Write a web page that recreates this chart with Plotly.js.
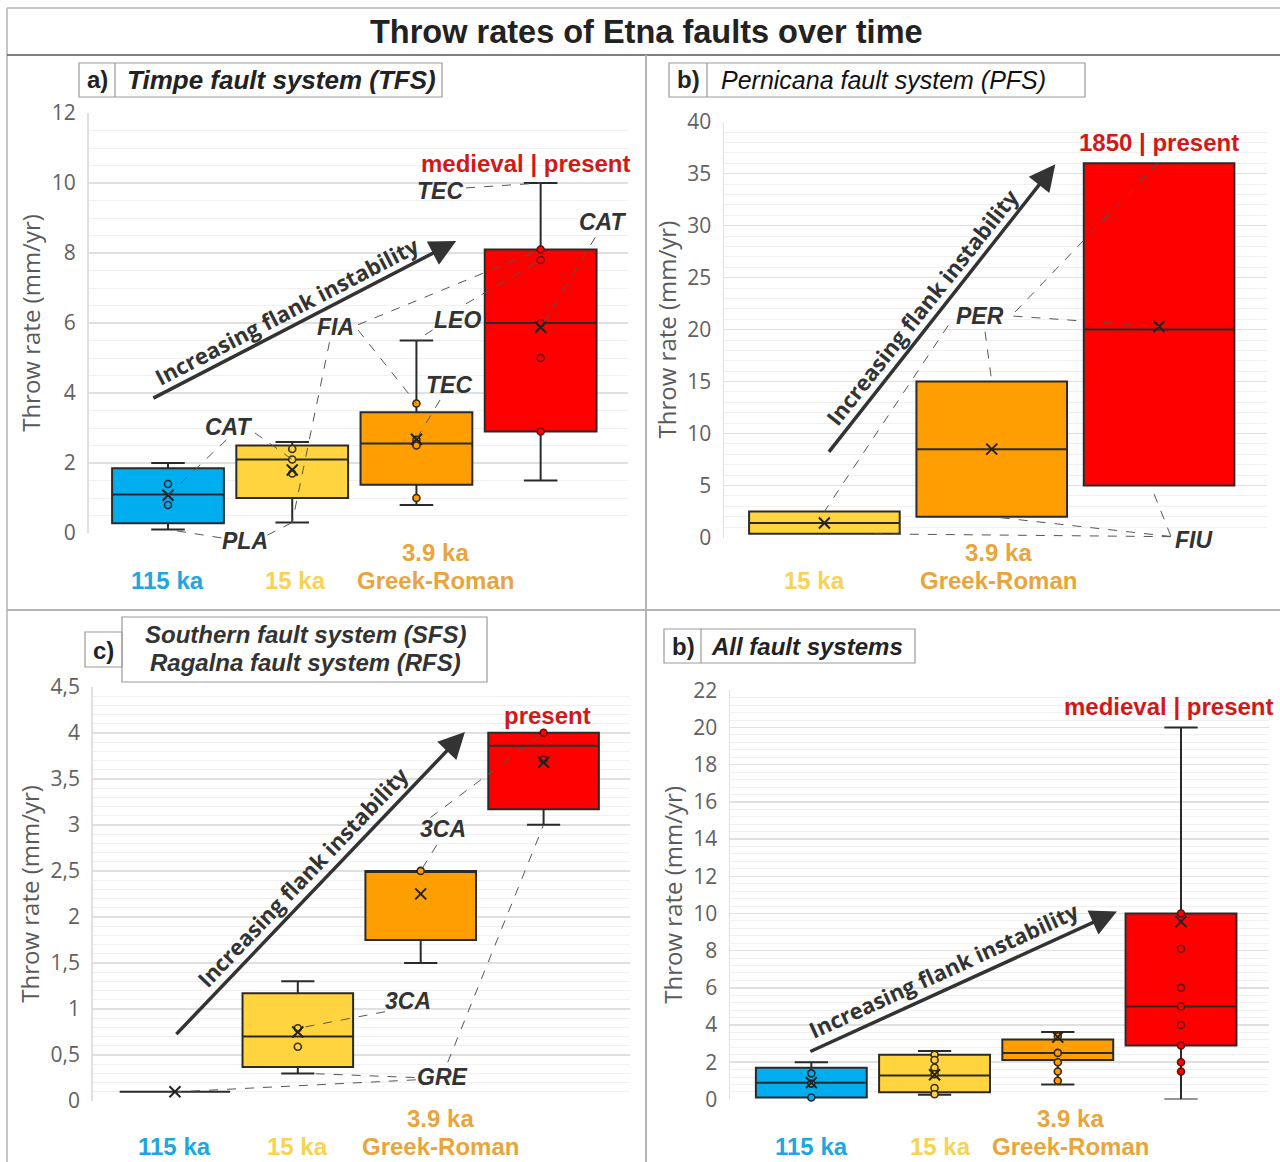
<!DOCTYPE html>
<html><head><meta charset="utf-8">
<script src="https://cdn.plot.ly/plotly-3.0.1.min.js"></script>
<style>body{margin:0;background:#fff}#chart{width:1280px;height:1162px}</style>
</head><body><div id="chart"></div>
<script>
// ================= DATA =================
// a) Timpe fault system
const catsA = ['115 ka', '15 ka', '3.9 ka Greek-Roman', 'medieval | present'];
const q1A   = [0.28, 1.0, 1.38, 2.9];
const medA  = [1.1, 2.1, 2.56, 6.0];
const q3A   = [1.85, 2.5, 3.45, 8.1];
const loA   = [0.1, 0.3, 0.8, 1.5];
const hiA   = [2.0, 2.6, 5.5, 10.0];
const meanA = [1.08, 1.8, 2.68, 5.88];
const ptGrpA = [0, 0, 1, 1, 1, 2, 2, 2, 2, 3, 3, 3, 3, 3];
const ptValA = [1.4, 0.8, 2.4, 2.1, 1.7, 3.7, 2.66, 2.5, 1.0, 8.1, 7.8, 6.0, 5.0, 2.9];

// b) Pernicana fault system
const catsB = ['15 ka', '3.9 ka Greek-Roman', '1850 | present'];
const q1B   = [0.35, 2.0, 5.0];
const medB  = [1.4, 8.5, 20.0];
const q3B   = [2.5, 15.0, 36.0];
const loB   = [0.35, 2.0, 5.0];
const hiB   = [2.5, 15.0, 36.0];
const meanB = [1.4, 8.5, 20.3];
const ptGrpB = [];
const ptValB = [];

// c) Southern / Ragalna fault systems
const catsC = ['115 ka', '15 ka', '3.9 ka Greek-Roman', 'present'];
const q1C   = [0.1, 0.37, 1.75, 3.17];
const medC  = [0.1, 0.7, 2.5, 3.86];
const q3C   = [0.1, 1.17, 2.5, 4.0];
const loC   = [0.1, 0.3, 1.5, 3.0];
const hiC   = [0.1, 1.3, 2.5, 4.0];
const meanC = [0.1, 0.75, 2.25, 3.68];
const ptGrpC = [1, 1, 2, 3, 3];
const ptValC = [0.79, 0.59, 2.5, 4.0, 3.71];
const tickValsC = [0, 0.5, 1, 1.5, 2, 2.5, 3, 3.5, 4, 4.5];
const tickTextC = ['0', '0,5', '1', '1,5', '2', '2,5', '3', '3,5', '4', '4,5'];

// d) All fault systems
const catsD = ['115 ka', '15 ka', '3.9 ka Greek-Roman', 'medieval | present'];
const q1D   = [0.1, 0.38, 2.12, 2.9];
const medD  = [0.9, 1.29, 2.5, 5.0];
const q3D   = [1.7, 2.4, 3.22, 10.0];
const loD   = [0.1, 0.25, 0.8, 0.0];
const hiD   = [2.0, 2.6, 3.63, 20.0];
const meanD = [0.9, 1.33, 3.35, 9.56];
const ptGrpD = [0, 0, 0, 1, 1, 1, 1, 1, 1, 2, 2, 2, 2, 2, 3, 3, 3, 3, 3, 3, 3, 3];
const ptValD = [1.4, 0.85, 0.1, 2.4, 2.12, 1.7, 1.36, 0.61, 0.28, 3.4, 2.5, 2.0, 1.5, 1.0, 10.0, 8.1, 6.0, 5.0, 4.0, 2.9, 2.0, 1.5];

// fault labels
const faultA = ['TEC', 'CAT', 'FIA', 'LEO', 'TEC', 'CAT', 'PLA'];
const faultB = ['PER', 'FIU'];
const faultC = ['3CA', '3CA', 'GRE'];

// ================= STYLE / LAYOUT =================
const W = 1280, H = 1162;
const fx = p => p / W, fy = p => 1 - p / H;
const COL = {blue: '#00AEEF', yellow: '#FFD43F', orange: '#FF9E00', red: '#FF0000'};
const TXT = {blue: '#1EA6E0', yellow: '#F8D253', orange: '#E9A43C', red: '#D11919'};
const EDGE = {blue: '#1d2a35', yellow: '#3a2e12', orange: '#3a2510', red: '#6a0a0a'};

const panels = [
  {s: '', px: [88.5, 627.6], py: [113, 533], xr: [-0.64, 3.70], yr: [0, 12], dtick: 2, minor: 0.5,
   q1: q1A, med: medA, q3: q3A, lo: loA, hi: hiA, mean: meanA, pg: ptGrpA, pv: ptValA,
   cols: ['blue', 'yellow', 'orange', 'red'],
   labels: faultA.map((t, i) => ({t, x: [2.19, 3.5, 1.35, 2.33, 2.26, 0.49, 0.62][i], y: [9.77, 8.89, 5.89, 6.09, 4.23, 3.03, -0.23][i]})),
   leaders: [
     [2.40, 9.86, 3, hiA[3]],
     [3.44, 8.45, 3, meanA[3]],
     [1.53, 5.95, 3, ptValA[9]],
     [1.53, 5.80, 2, ptValA[5]],
     [1.30, 5.45, 1, loA[1]],
     [2.13, 5.80, 2, hiA[2]],
     [2.40, 6.55, 3, ptValA[10]],
     [2.19, 3.80, 2, meanA[2]],
     [0.70, 2.86, 1, ptValA[3]],
     [0.47, 2.66, 0, meanA[0]],
     [0.43, -0.14, 0, loA[0]],
     [0.80, -0.06, 1, loA[1]]],
   arrow: {x0: -0.13, y0: 3.83, x1: 2.32, y1: 8.34, tx: 0.95, ty: 6.34, ang: -27.4},
   cat: [['115 ka', 'blue', 0, 580], ['15 ka', 'yellow', 1.03, 580], ['3.9 ka', 'orange', 2.15, 553], ['Greek-Roman', 'orange', 2.15, 580], ['medieval | present', 'red', 2.88, 163]]},
  {s: '2', px: [724, 1267], py: [121.7, 537.5], xr: [-0.60, 2.645], yr: [0, 40], dtick: 5, minor: 1,
   q1: q1B, med: medB, q3: q3B, lo: loB, hi: hiB, mean: meanB, pg: ptGrpB, pv: ptValB,
   cols: ['yellow', 'orange', 'red'],
   labels: faultB.map((t, i) => ({t, x: [0.93, 2.21][i], y: [21.3, -0.24][i]})),
   leaders: [
     [1.13, 21.3, 2, meanB[2]],
     [1.14, 21.7, 1.99, q3B[2]],
     [0.74, 20.4, 0, q3B[0]],
     [0.96, 19.8, 1, q3B[1]],
     [2.07, 0.15, 1.95, q1B[2]],
     [2.07, 0.10, 1, q1B[1]],
     [2.07, 0.08, 0.28, q1B[0]]],
   arrow: {x0: 0.02, y0: 8.1, x1: 1.38, y1: 35.9, tx: 0.58, ty: 22.2, ang: -51.6},
   cat: [['15 ka', 'yellow', -0.06, 580], ['3.9 ka', 'orange', 1.04, 553], ['Greek-Roman', 'orange', 1.04, 580], ['1850 | present', 'red', 2.0, 143]]},
  {s: '3', px: [92.6, 629.6], py: [686.8, 1101], xr: [-0.67, 3.70], yr: [0, 4.5], dtick: 0.5, minor: 0.1,
   q1: q1C, med: medC, q3: q3C, lo: loC, hi: hiC, mean: meanC, pg: ptGrpC, pv: ptValC,
   cols: ['blue', 'yellow', 'orange', 'red'],
   labels: faultC.map((t, i) => ({t, x: [2.18, 1.9, 2.18][i], y: [2.96, 1.09, 0.26][i]})),
   leaders: [
     [2.13, 2.78, 2, ptValC[2]],
     [2.08, 3.08, 3, ptValC[3]],
     [1.71, 0.97, 1, ptValC[0]],
     [1.96, 0.23, 0.02, meanC[0]],
     [1.95, 0.255, 1.07, loC[1]],
     [2.22, 0.42, 3, loC[3]]],
   arrow: {x0: 0, y0: 0.71, x1: 2.36, y1: 4.01, tx: 1.035, ty: 2.43, ang: -46.4},
   cat: [['115 ka', 'blue', 0, 1146], ['15 ka', 'yellow', 1.0, 1146], ['3.9 ka', 'orange', 2.16, 1118], ['Greek-Roman', 'orange', 2.16, 1146], ['present', 'red', 3.03, 715]]},
  {s: '4', px: [730, 1268.5], py: [690.3, 1099.4], xr: [-0.66, 3.71], yr: [0, 22], dtick: 2, minor: 0.4,
   q1: q1D, med: medD, q3: q3D, lo: loD, hi: hiD, mean: meanD, pg: ptGrpD, pv: ptValD,
   cols: ['blue', 'yellow', 'orange', 'red'],
   labels: [], leaders: [],
   arrow: {x0: -0.02, y0: 2.54, x1: 2.48, y1: 10.1, tx: 1.07, ty: 6.94, ang: -24.6},
   cat: [['115 ka', 'blue', 0, 1146], ['15 ka', 'yellow', 1.05, 1146], ['3.9 ka', 'orange', 2.1, 1118], ['Greek-Roman', 'orange', 2.1, 1146], ['medieval | present', 'red', 2.9, 706]]}
];

function toPaper(p, x, y) {
  const X0 = fx(p.px[0]), X1 = fx(p.px[1]), Y0 = fy(p.py[1]), Y1 = fy(p.py[0]);
  return [X0 + (x - p.xr[0]) / (p.xr[1] - p.xr[0]) * (X1 - X0),
          Y0 + (y - p.yr[0]) / (p.yr[1] - p.yr[0]) * (Y1 - Y0)];
}

const traces = [];
const shapes = [];
const annotations = [];
const layout = {
  width: W, height: H, margin: {l: 0, r: 0, t: 0, b: 0},
  paper_bgcolor: '#fff', plot_bgcolor: '#fff', showlegend: false,
  boxmode: 'overlay', hovermode: false
};

const LBL = {family: 'Liberation Sans, Arial, sans-serif', size: 23, color: '#333'};

panels.forEach((p, pi) => {
  const xa = 'x' + p.s, ya = 'y' + p.s;
  layout['xaxis' + p.s] = {
    domain: [fx(p.px[0]), fx(p.px[1])], range: p.xr, anchor: ya,
    showgrid: false, zeroline: false, showticklabels: false, showline: false, ticks: '', fixedrange: true
  };
  const yax = {
    domain: [fy(p.py[1]), fy(p.py[0])], range: p.yr, anchor: xa,
    dtick: p.dtick, tick0: 0, showgrid: true, gridcolor: '#e0e0e0', gridwidth: 1.5,
    minor: {dtick: p.minor, tick0: 0, showgrid: true, gridcolor: '#f0f0f0', gridwidth: 1},
    zeroline: false, showline: true, linecolor: '#e0e0e0', linewidth: 1.5, ticks: '',
    tickfont: {family: 'Open Sans, sans-serif', size: 21, color: '#616161'}, ticklabelstandoff: 7,
    title: {text: 'Throw rate (mm/yr)', font: {family: 'Open Sans, sans-serif', size: 24, color: '#5a5a5a'}, standoff: 4},
    fixedrange: true
  };
  if (p.s === '3') { yax.tickmode = 'array'; yax.tickvals = tickValsC; yax.ticktext = tickTextC; }
  layout['yaxis' + p.s] = yax;

  // boxes
  p.q1.forEach((v, i) => {
    const c = p.cols[i];
    traces.push({
      type: 'box', xaxis: xa, yaxis: ya, x: [i],
      q1: [p.q1[i]], median: [p.med[i]], q3: [p.q3[i]],
      lowerfence: [p.lo[i]], upperfence: [p.hi[i]],
      width: 0.9, whiskerwidth: 0.3, boxpoints: false,
      fillcolor: COL[c], line: {color: '#2a2a2a', width: 2}, hoverinfo: 'skip'
    });
  });
  // data points
  if (p.pv.length) {
    traces.push({
      type: 'scatter', mode: 'markers', xaxis: xa, yaxis: ya,
      x: p.pg, y: p.pv, cliponaxis: false,
      marker: {symbol: 'circle', size: 7,
        color: p.pg.map(g => COL[p.cols[g]]),
        line: {width: 1.6, color: p.pg.map(g => EDGE[p.cols[g]])}},
      hoverinfo: 'skip'
    });
  }
  // means
  traces.push({
    type: 'scatter', mode: 'markers', xaxis: xa, yaxis: ya,
    x: p.mean.map((v, i) => i), y: p.mean, cliponaxis: false,
    marker: {symbol: 'x-thin', size: 11, line: {width: 2, color: '#222'}},
    hoverinfo: 'skip'
  });

  // leader lines (dashed)
  p.leaders.forEach(l => {
    const a = toPaper(p, l[0], l[1]), b = toPaper(p, l[2], l[3]);
    shapes.push({type: 'line', xref: 'paper', yref: 'paper', x0: a[0], y0: a[1], x1: b[0], y1: b[1],
      line: {color: '#555', width: 1, dash: 'dash'}});
  });
  // fault labels
  p.labels.forEach(l => {
    const q = toPaper(p, l.x, l.y);
    annotations.push({xref: 'paper', yref: 'paper', x: q[0], y: q[1], xanchor: 'center', yanchor: 'middle',
      text: '<b><i>' + l.t + '</i></b>', showarrow: false, font: LBL});
  });
  // trend arrow
  const ar = p.arrow;
  annotations.push({xref: xa, yref: ya, axref: xa, ayref: ya, x: ar.x1, y: ar.y1, ax: ar.x0, ay: ar.y0,
    text: '', showarrow: true, arrowhead: 2, arrowsize: 1.5, arrowwidth: 3.5, arrowcolor: '#333', standoff: 0, startstandoff: 0});
  const tq = toPaper(p, ar.tx, ar.ty);
  annotations.push({xref: 'paper', yref: 'paper', x: tq[0], y: tq[1], xanchor: 'center', yanchor: 'middle',
    text: '<b>Increasing flank instability</b>', showarrow: false,
    textangle: ar.ang, font: {family: 'Open Sans, sans-serif', size: 22, color: '#333'}});
  // category labels
  p.cat.forEach(c => {
    const q = toPaper(p, c[2], 0);
    annotations.push({xref: 'paper', yref: 'paper', x: q[0], y: fy(c[3]), xanchor: 'center', yanchor: 'middle',
      text: '<b>' + c[0] + '</b>', showarrow: false,
      font: {family: 'Liberation Sans, Arial, sans-serif', size: 24, color: TXT[c[1]]}});
  });
});

// ---------- figure frame ----------
const frame = [
  [7, 8, 1280, 8, '#c4c4c4', 2],
  [7, 8, 7, 1162, '#c4c4c4', 2],
  [7, 55, 1280, 55, '#555', 1.5],
  [646, 55, 646, 1162, '#b5b5b5', 2],
  [7, 610, 1280, 610, '#b5b5b5', 2]
];
frame.forEach(f => shapes.push({type: 'line', xref: 'paper', yref: 'paper', x0: fx(f[0]), y0: fy(f[1]), x1: fx(f[2]), y1: fy(f[3]), line: {color: f[4], width: f[5]}}));

// header boxes
const rects = [[79, 63, 442, 97], [669, 63, 1085, 97], [85, 632, 122, 667], [122, 617, 487, 682], [664, 629, 915, 663]];
rects.forEach(r => shapes.push({type: 'rect', xref: 'paper', yref: 'paper', x0: fx(r[0]), y0: fy(r[3]), x1: fx(r[2]), y1: fy(r[1]), line: {color: '#9a9a9a', width: 1.2}}));
const dividers = [[115, 63, 97], [707, 63, 97], [701, 629, 663]];
dividers.forEach(d => shapes.push({type: 'line', xref: 'paper', yref: 'paper', x0: fx(d[0]), y0: fy(d[1]), x1: fx(d[0]), y1: fy(d[2]), line: {color: '#9a9a9a', width: 1.2}}));

const head = [
  ['<b>a)</b>', 97, 80, 24, '#222'],
  ['<b><i>Timpe fault system (TFS)</i></b>', 281, 80, 26, '#222'],
  ['<b>b)</b>', 688, 80, 24, '#222'],
  ['<i>Pernicana fault system (PFS)</i>', 883, 80, 25, '#111'],
  ['<b>c)</b>', 103, 650, 24, '#222'],
  ['<b><i>Southern fault system (SFS)</i></b>', 305, 634, 24, '#333'],
  ['<b><i>Ragalna fault system (RFS)</i></b>', 305, 662, 24, '#333'],
  ['<b>b)</b>', 683, 646, 24, '#222'],
  ['<b><i>All fault systems</i></b>', 807, 646, 24, '#222'],
  ['<b>Throw rates of Etna faults over time</b>', 646, 32, 32.5, '#222']
];
head.forEach(h => annotations.push({xref: 'paper', yref: 'paper', x: fx(h[1]), y: fy(h[2]), text: h[0], showarrow: false,
  xanchor: 'center', yanchor: 'middle', font: {family: 'Liberation Sans, Arial, sans-serif', size: h[3], color: h[4]}}));

layout.shapes = shapes;
layout.annotations = annotations;

Plotly.newPlot('chart', traces, layout, {staticPlot: true, displayModeBar: false});
</script>
</body></html>
